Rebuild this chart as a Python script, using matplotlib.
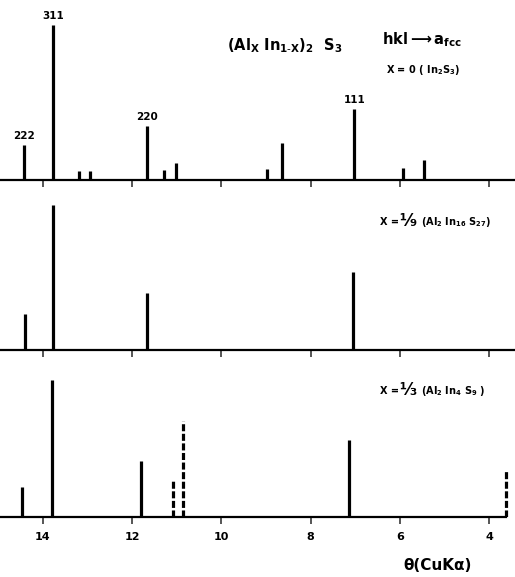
import matplotlib
matplotlib.use('Agg')
import matplotlib.pyplot as plt

# peak positions (theta, deg) and relative intensities
top_pos = [14.43, 13.77, 13.19, 12.95, 11.66, 11.28, 11.02, 8.98, 8.65, 7.02, 5.94, 5.47]
top_int = [22.6, 100.0, 5.8, 5.8, 34.8, 6.5, 11.0, 7.1, 23.9, 45.8, 7.7, 12.9]
top_hkl = {'222': (14.43, 22.6), '311': (13.77, 100.0),
           '220': (11.66, 34.8), '111': (7.02, 45.8)}

mid_pos = [14.40, 13.77, 11.67, 7.04]
mid_int = [23.2, 93.5, 36.8, 50.3]

bot_pos = [14.46, 13.80, 11.79, 7.13]
bot_int = [19.4, 88.4, 36.1, 49.7]
bot_dash_pos = [11.08, 10.85, 3.62]
bot_dash_int = [23.2, 61.9, 29.7]

ticks = [14, 12, 10, 8, 6, 4]
tick_labels = ['14', '12', '10', '8', '6', '4']

W, H = 515, 577
PX = 1.55  # pixels per intensity unit
XLIM = (14.96, 3.42)

plt.rcParams['mathtext.default'] = 'bf'
fig = plt.figure(figsize=(W / 100, H / 100), dpi=100)


def panel(base_px, top_px):
    ax = fig.add_axes([0, 1 - base_px / H, 1, (base_px - top_px) / H])
    ax.set_xlim(*XLIM)
    ax.set_ylim(0, (base_px - top_px) / PX)
    for s in ('top', 'left', 'right'):
        ax.spines[s].set_visible(False)
    ax.spines['bottom'].set_linewidth(1.6)
    ax.set_yticks([])
    ax.set_xticks(ticks)
    ax.tick_params(axis='x', direction='out', length=5, width=1.4,
                   labelbottom=False, color='#555555')
    ax.patch.set_alpha(0)
    return ax


def put(x, y, s, size, ha='center'):
    fig.text(x / W, 1 - y / H, s, ha=ha, va='center', fontsize=size,
             fontweight='bold')


def frac_label(y, frac, rest):
    put(380, y, 'X =', 7, ha='left')
    put(399, y - 1, frac, 12, ha='left')
    put(421, y, rest, 7, ha='left')


ax1 = panel(180, 0)
ax1.vlines(top_pos, 0, top_int, color='black', lw=2.3)
for lab, (x, h) in top_hkl.items():
    ax1.annotate(lab, (x, h), xytext=(0, 3), textcoords='offset points',
                 ha='center', va='bottom', fontsize=7.5, fontweight='bold')

ax2 = panel(350, 190)
ax2.vlines(mid_pos, 0, mid_int, color='black', lw=2.3)

ax3 = panel(517, 365)
ax3.vlines(bot_pos, 0, bot_int, color='black', lw=2.3)
ax3.vlines(bot_dash_pos, 0, bot_dash_int, color='black', lw=2.3,
           linestyles=(0, (2.2, 0.8)))
ax3.spines['bottom'].set_bounds(3.62, XLIM[0])
ax3.tick_params(axis='x', labelbottom=True, labelsize=8, pad=6)
ax3.set_xticklabels(tick_labels, fontweight='bold')

# texts
put(285, 46, r'(Al$_X$ In$_{1\text{-}X}$)$_2$  S$_3$', 10.5)
put(422, 40, r'hkl$\longrightarrow$a$_{fcc}$', 10.5)
put(423, 70, r'X = 0 ( In$_2$S$_3$)', 7)
frac_label(222, '⅑', r'(Al$_2$ In$_{16}$ S$_{27}$)')
frac_label(391, '⅓', r'(Al$_2$ In$_4$ S$_9$ )')
put(438, 565, 'θ(CuKα)', 11)

fig.savefig('out.png', dpi=100)
